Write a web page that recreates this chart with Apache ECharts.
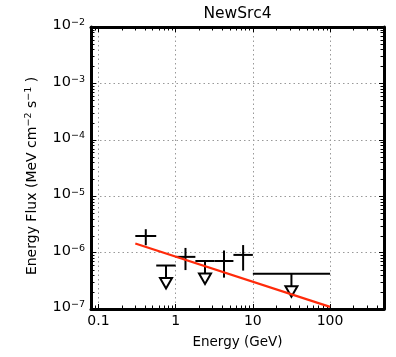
<!DOCTYPE html>
<html><head><meta charset="utf-8">
<script src="https://cdn.jsdelivr.net/npm/echarts@6/dist/echarts.min.js"></script>
<style>html,body{margin:0;padding:0;background:#fff}#c{width:396px;height:357px}</style>
</head><body><div id="c"></div>
<script>
const chartTitle = 'NewSrc4';
const xName = 'Energy (GeV)';
const yName = 'Energy Flux (MeV cm{s|\u22122} s{s|\u22121} )';
const xTickLabels = ['0.1', '1', '10', '100'];
const yTickExps = [-7, -6, -5, -4, -3, -2];

// detected points (GeV, MeV cm^-2 s^-1)
const detE = [0.41, 1.34, 4.23, 7.48];
const detELo = [0.3, 1.0, 3.2, 5.6];
const detEHi = [0.56, 1.8, 5.6, 10];
const detFlux = [1.97e-6, 8.4e-7, 7.1e-7, 9.1e-7];
const detFluxLo = [1.35e-6, 4.9e-7, 3.6e-7, 4.8e-7];
const detFluxHi = [2.6e-6, 1.21e-6, 1.09e-6, 1.36e-6];

// upper limits
const ulE = [0.75, 2.4, 31.6];
const ulELo = [0.56, 1.8, 10];
const ulEHi = [1.0, 3.2, 100];
const ulFlux = [5.9e-7, 7.1e-7, 4.2e-7];

// model line
const modelE = [0.3, 100];
const modelFlux = [1.45e-6, 1.09e-7];

const xMin = 0.08, xMax = 500, yMin = 1e-7, yMax = 1e-2;

// minor tick positions (axis decoration)
const xMinors = [], yMinors = [];
for (let d = -2; d <= 2; d++) for (let m = 2; m <= 9; m++) {
  const v = m * Math.pow(10, d);
  if (v > xMin * 1.0001 && v < xMax * 0.9999) xMinors.push(v);
}
for (let d = -7; d <= -3; d++) for (let m = 2; m <= 9; m++) {
  yMinors.push(m * Math.pow(10, d));
}

const FONT = 'DejaVu Sans';
const chart = echarts.init(document.getElementById('c'), null, {renderer: 'canvas'});

function xFmt(v) {
  for (const s of xTickLabels) if (Math.abs(parseFloat(s) - v) / v < 1e-6) return s;
  return '';
}
function yFmt(v) {
  const l = Math.log10(v), e = Math.round(l);
  if (Math.abs(l - e) > 1e-6 || yTickExps.indexOf(e) < 0) return '';
  return '{b|10}{s|' + (e < 0 ? '\u2212' : '') + Math.abs(e) + '}';
}

const frameLine = {show: true, onZero: false, lineStyle: {color: '#000', width: 3}};
const majorTick = {show: true, inside: true, length: 5, lineStyle: {color: '#000', width: 1}};
const gridLine = {show: true, lineStyle: {color: '#999', width: 1, type: [1.5, 3]}};

const detData = detE.map((e, i) => [e, detELo[i], detEHi[i], detFlux[i], detFluxLo[i], detFluxHi[i]]);
const ulData = ulE.map((e, i) => [e, ulELo[i], ulEHi[i], ulFlux[i]]);
const minorData = xMinors.map(v => [v, 1e-5, 0]).concat(yMinors.map(v => [1, v, 1]));

const lineStyleK = {stroke: '#000', lineWidth: 2};

chart.setOption({
  animation: false,
  backgroundColor: '#fff',
  title: {
    text: chartTitle, left: 237.5, top: 6, padding: 0, textAlign: 'center',
    textStyle: {fontFamily: FONT, fontSize: 15.5, fontWeight: 'normal', color: '#000'}
  },
  grid: {left: 91, right: 12, top: 27, bottom: 48},
  xAxis: [{
    type: 'log', min: xMin, max: xMax, position: 'bottom',
    axisLine: frameLine, axisTick: majorTick, splitLine: gridLine,
    axisLabel: {formatter: xFmt, margin: 5, fontFamily: FONT, fontSize: 14, color: '#000', showMinLabel: false, showMaxLabel: false},
    name: xName, nameLocation: 'middle', nameGap: 26,
    nameTextStyle: {fontFamily: FONT, fontSize: 13.5, color: '#000'}
  }, {
    type: 'log', min: xMin, max: xMax, position: 'top',
    axisLine: frameLine, axisTick: majorTick, splitLine: {show: false},
    axisLabel: {show: false}
  }],
  yAxis: [{
    type: 'log', min: yMin, max: yMax, position: 'left',
    axisLine: frameLine, axisTick: majorTick, splitLine: gridLine,
    axisLabel: {
      formatter: yFmt, margin: 6, color: '#000',
      rich: {
        b: {fontFamily: FONT, fontSize: 14.5, lineHeight: 18, color: '#000', verticalAlign: 'top'},
        s: {fontFamily: FONT, fontSize: 9.5, lineHeight: 11, color: '#000', verticalAlign: 'top'}
      }
    },
    name: yName, nameLocation: 'middle', nameGap: 53,
    nameTextStyle: {
      fontFamily: FONT, fontSize: 14, color: '#000', lineHeight: 18, verticalAlign: 'top',
      padding: [0, 16, 0, 0],
      rich: {s: {fontFamily: FONT, fontSize: 9.5, lineHeight: 11, color: '#000', verticalAlign: 'top'}}
    }
  }, {
    type: 'log', min: yMin, max: yMax, position: 'right',
    axisLine: frameLine, axisTick: majorTick, splitLine: {show: false},
    axisLabel: {show: false}
  }],
  series: [{
    type: 'custom', name: 'minor', data: minorData, encode: {x: 0, y: 1}, z: 3, silent: true,
    renderItem: function (params, api) {
      const cs = params.coordSys;
      const flag = api.value(2);
      const st = {stroke: '#000', lineWidth: 1};
      if (flag === 0) {
        const x = Math.round(api.coord([api.value(0), 1e-5])[0]) + 0.5;
        const yb = cs.y + cs.height, yt = cs.y;
        return {type: 'group', children: [
          {type: 'line', shape: {x1: x, y1: yb, x2: x, y2: yb - 3.5}, style: st},
          {type: 'line', shape: {x1: x, y1: yt, x2: x, y2: yt + 3.5}, style: st}
        ]};
      } else {
        const y = Math.round(api.coord([1, api.value(1)])[1]) + 0.5;
        const xl = cs.x, xr = cs.x + cs.width;
        return {type: 'group', children: [
          {type: 'line', shape: {x1: xl, y1: y, x2: xl + 3.5, y2: y}, style: st},
          {type: 'line', shape: {x1: xr, y1: y, x2: xr - 3.5, y2: y}, style: st}
        ]};
      }
    }
  }, {
    type: 'custom', name: 'points', data: detData, encode: {x: 0, y: 3}, z: 4,
    renderItem: function (params, api) {
      const e = api.value(0), lo = api.value(1), hi = api.value(2);
      const f = api.value(3), flo = api.value(4), fhi = api.value(5);
      const pL = api.coord([lo, f]), pR = api.coord([hi, f]);
      const pT = api.coord([e, fhi]), pB = api.coord([e, flo]);
      return {type: 'group', children: [
        {type: 'line', shape: {x1: pL[0], y1: pL[1], x2: pR[0], y2: pR[1]}, style: lineStyleK},
        {type: 'line', shape: {x1: pT[0], y1: pT[1], x2: pB[0], y2: pB[1]}, style: lineStyleK}
      ]};
    }
  }, {
    type: 'custom', name: 'upper limits', data: ulData, encode: {x: 0, y: 3}, z: 4,
    renderItem: function (params, api) {
      const e = api.value(0), lo = api.value(1), hi = api.value(2), f = api.value(3);
      const pL = api.coord([lo, f]), pR = api.coord([hi, f]), pC = api.coord([e, f]);
      const x = pC[0], y = pC[1];
      return {type: 'group', children: [
        {type: 'line', shape: {x1: pL[0], y1: pL[1], x2: pR[0], y2: pR[1]}, style: lineStyleK},
        {type: 'line', shape: {x1: x, y1: y, x2: x, y2: y + 13}, style: lineStyleK},
        {type: 'polygon', shape: {points: [[x - 6, y + 12.5], [x + 6, y + 12.5], [x, y + 23]]},
          style: {fill: '#fff', stroke: '#000', lineWidth: 2}}
      ]};
    }
  }, {
    type: 'line', name: 'model', data: modelE.map((e, i) => [e, modelFlux[i]]),
    showSymbol: false, symbol: 'none', z: 6,
    lineStyle: {color: '#ff2a0a', width: 2.2}
  }]
});
</script>
</body></html>
